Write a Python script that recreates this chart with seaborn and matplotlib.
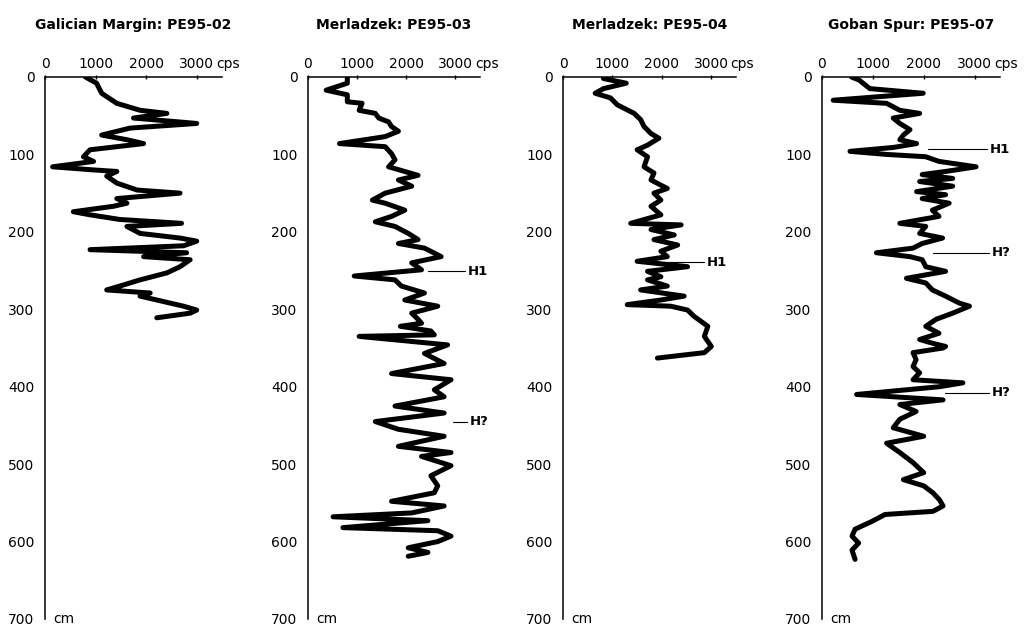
import numpy as np
import pandas as pd
import seaborn as sns
import matplotlib.pyplot as plt

# ---------------- data ----------------
titles = ["Galician Margin: PE95-02", "Merladzek: PE95-03",
          "Merladzek: PE95-04", "Goban Spur: PE95-07"]
cps_ticks = [0, 1000, 2000, 3000]
depth_ticks = [0, 100, 200, 300, 400, 500, 600, 700]

gal_depth = [0, 8, 21, 34, 43, 47, 53, 60, 66, 75, 81, 86, 94, 103, 109, 116, 120,
             122, 128, 137, 146, 150, 157, 163, 167, 174, 178, 184, 189, 193, 202,
             208, 212, 218, 223, 227, 232, 236, 245, 253, 262, 270, 275, 279, 283,
             288, 296, 301, 305, 311]
gal_cps = [800, 1020, 1120, 1420, 1880, 2410, 1750, 3000, 1680, 1120, 1620, 1950, 890,
           760, 960, 150, 960, 1420, 1220, 1420, 1820, 2670, 1420, 1620, 1350, 560,
           890, 1480, 2700, 1620, 1880, 2670, 3000, 2740, 890, 2800, 1950, 2870, 2670,
           2410, 1880, 1480, 1220, 2080, 1880, 2210, 2740, 3000, 2870, 2210]

m03_depth = [1, 8, 17, 23, 32, 34, 43, 47, 53, 58, 64, 70, 77, 86, 90, 99, 107, 116,
             127, 133, 141, 150, 159, 163, 172, 180, 187, 193, 202, 210, 215, 221,
             232, 240, 249, 257, 262, 270, 279, 288, 296, 305, 313, 318, 322, 328,
             333, 335, 346, 357, 370, 383, 391, 404, 413, 425, 434, 445, 455, 464,
             477, 485, 490, 502, 515, 528, 537, 548, 554, 563, 568, 573, 582, 586,
             593, 600, 608, 614, 619]
m03_cps = [800, 800, 370, 800, 800, 1100, 1040, 1370, 1440, 1640, 1700, 1840, 1570,
           640, 1570, 1700, 1770, 1640, 2240, 1840, 2110, 1570, 1310, 1570, 1970,
           1700, 1370, 1770, 2040, 2240, 1840, 2370, 2710, 2110, 2310, 940, 1770,
           1900, 2370, 1970, 2640, 2110, 2240, 2310, 1880, 2500, 2570, 1040, 2840,
           2370, 2770, 1700, 2910, 2570, 2770, 1770, 2770, 1370, 1840, 2770, 1840,
           2910, 2310, 2910, 2500, 2640, 2570, 1700, 2770, 2110, 510, 2440, 710,
           2640, 2910, 2640, 2040, 2440, 2040]

m04_depth = [2, 8, 15, 21, 27, 36, 47, 55, 64, 73, 79, 88, 94, 103, 116, 124, 133,
             144, 150, 159, 167, 178, 189, 191, 197, 204, 210, 217, 225, 232, 238,
             245, 251, 258, 262, 270, 275, 283, 288, 294, 296, 301, 309, 322, 335,
             348, 356, 363]
m04_cps = [820, 1280, 820, 650, 960, 1100, 1440, 1570, 1640, 1780, 1940, 1710, 1500,
           1710, 1640, 1840, 1780, 2110, 1840, 1980, 1780, 1980, 1370, 2390, 1780,
           2250, 1840, 2320, 1980, 2110, 1500, 2520, 1710, 1980, 1710, 2110, 1570,
           2450, 1980, 1300, 2180, 2520, 2650, 2930, 2860, 3000, 2860, 1910]

gob_depth = [0, 4, 15, 21, 25, 30, 34, 43, 47, 53, 60, 68, 75, 81, 86, 91, 96, 100,
             103, 109, 116, 122, 126, 131, 135, 141, 148, 152, 157, 163, 172, 180,
             189, 193, 202, 208, 215, 221, 227, 232, 236, 245, 251, 260, 266, 275,
             283, 292, 296, 305, 313, 322, 331, 339, 344, 348, 350, 356, 365, 374,
             382, 391, 395, 400, 410, 417, 423, 432, 442, 453, 464, 473, 485, 498,
             511, 520, 528, 537, 546, 554, 561, 565, 574, 584, 593, 602, 611, 623]
gob_cps = [580, 730, 940, 1990, 1200, 220, 1270, 1530, 1920, 1400, 1530, 1730, 1600,
           1530, 1860, 1400, 550, 1270, 2040, 2300, 3030, 2430, 1970, 2570, 1920,
           2570, 1860, 2430, 1970, 2500, 2170, 2300, 1530, 2040, 1920, 2370, 1970,
           1790, 1070, 1730, 1970, 2040, 2430, 1660, 2040, 2170, 2430, 2700, 2900,
           2570, 2240, 2040, 2300, 1920, 2180, 2430, 2380, 1790, 1850, 1790, 1920,
           1790, 2770, 2310, 680, 2380, 1530, 1850, 1530, 1400, 2000, 1270, 1530,
           1790, 2000, 1600, 2000, 2180, 2310, 2380, 2180, 1240, 980, 650, 590, 720,
           590, 650]

# event labels: (depth, label, line start cps, line end cps)
gal_events = []
m03_events = [(251, "H1", 2450, 3200), (445, "H?", 2960, 3240)]
m04_events = [(239, "H1", 2040, 2860)]
gob_events = [(93, "H1", 2080, 3250), (227, "H?", 2180, 3290), (408, "H?", 2410, 3290)]

# ---------------- figure ----------------
sns.set_theme(style="white")
plt.rcParams["font.family"] = ["DejaVu Sans"]

W, H = 1029, 628
fig = plt.figure(figsize=(W / 100, H / 100), dpi=100)
fig.patch.set_facecolor("white")

layout = [(45, 177), (308, 172), (563, 173), (822, 178)]  # axes left px, width px
cores = [(gal_depth, gal_cps, gal_events), (m03_depth, m03_cps, m03_events),
         (m04_depth, m04_cps, m04_events), (gob_depth, gob_cps, gob_events)]

top_px, bot_px = 77, 619
for title, (left, width), (dep, cps, events) in zip(titles, layout, cores):
    ax = fig.add_axes([left / W, (H - bot_px) / H, width / W, (bot_px - top_px) / H])
    df = pd.DataFrame({"depth": dep, "cps": cps})
    sns.lineplot(data=df, x="cps", y="depth", orient="y", sort=True, estimator=None,
                 color="black", linewidth=3.6, ax=ax)
    ax.set_xlim(0, 3500)
    ax.set_ylim(700, 0)
    ax.xaxis.tick_top()
    ax.set_xticks(cps_ticks)
    ax.set_xticklabels([str(t) for t in cps_ticks])
    ax.set_yticks(depth_ticks)
    ax.set_yticklabels([str(t) for t in depth_ticks])
    ax.set_xlabel("")
    ax.set_ylabel("")
    for s in ["bottom", "right"]:
        ax.spines[s].set_visible(False)
    for s in ["top", "left"]:
        ax.spines[s].set_color("black")
        ax.spines[s].set_linewidth(1.1)
    ax.tick_params(axis="x", direction="inout", length=3, width=1, pad=3,
                   labelsize=10, colors="black")
    ax.tick_params(axis="y", direction="inout", length=3, width=1, pad=6,
                   labelsize=10, colors="black")
    ax.annotate("cps", xy=(3000, 1), xycoords=("data", "axes fraction"),
                xytext=(14, 4.4), textcoords="offset points", ha="left", va="bottom",
                fontsize=10, color="black", annotation_clip=False)
    ax.annotate("cm", xy=(0, 700), xycoords="data", xytext=(6, 0),
                textcoords="offset points", ha="left", va="center", fontsize=10,
                color="black", annotation_clip=False)
    for d, lab, x0, x1 in events:
        ax.plot([x0, x1], [d, d], color="black", linewidth=0.8, clip_on=False)
        ax.text(x1 + 50, d, lab, ha="left", va="center", fontsize=9.5,
                fontweight="bold", color="black", clip_on=False)
    fig.text((left + width / 2) / W, 1 - 25 / H, title, ha="center", va="center",
             fontsize=10, fontweight="bold", color="black")

fig.savefig("out.png", dpi=100, facecolor="white")
